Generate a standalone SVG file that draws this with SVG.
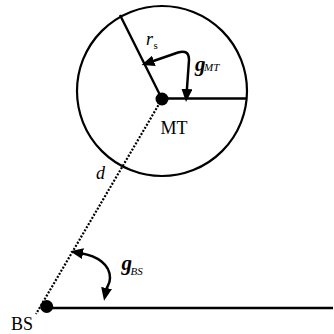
<svg xmlns="http://www.w3.org/2000/svg" width="334" height="334" viewBox="0 0 334 334">
<style>
.ln{fill:none;stroke:#000;stroke-width:2.4}
.arc{fill:none;stroke:#000;stroke-width:2.5;marker-start:url(#ah);marker-end:url(#ah)}
.dot{fill:#000}
.lbl{font-family:"Liberation Serif","Times New Roman",serif;font-size:18px;fill:#000}
.it{font-style:italic}
.gam{font-family:"Liberation Serif","Times New Roman",serif;font-size:21px;font-weight:bold;font-style:italic;fill:#000}
.sub{font-family:"Liberation Serif","Times New Roman",serif;font-size:11px;font-style:italic;font-weight:normal;fill:#000}
.up{font-style:normal}
</style>
<defs>
<marker id="ah" viewBox="0 0 13 11" refX="2" refY="5.5" markerWidth="13" markerHeight="11" markerUnits="userSpaceOnUse" orient="auto-start-reverse">
<path d="M0,0 L13,5.5 L0,11 z" fill="#000"/>
</marker>
</defs>
<rect width="334" height="334" fill="#fff"/>
<g id="coverage">
<circle cx="162" cy="91" r="85" fill="none" stroke="#000" stroke-width="2.2"/>
</g>
<g id="connectors">
<line x1="162" y1="99" x2="36" y2="314" stroke="#000" stroke-width="2.2" stroke-dasharray="2 1.6"/>
<line class="ln" x1="120" y1="15" x2="162" y2="99"/>
<line class="ln" x1="162" y1="98.5" x2="247" y2="98.5"/>
<line class="ln" x1="47" y1="308" x2="333" y2="308"/>
<path class="arc" d="M152,61.5 L178,52.5 Q189,49 189,60 L186.8,91"/>
<path class="arc" d="M81,253.2 C97,256 110,264 110,278 C110,284 107,286 106.2,290"/>
</g>
<g id="MT">
<circle class="dot" cx="162" cy="99" r="6.5"/>
<text class="lbl" x="160.5" y="133.5">MT</text>
</g>
<g id="BS">
<circle class="dot" cx="46.7" cy="306.5" r="6.5"/>
<text class="lbl" x="11" y="330">BS</text>
</g>
<g id="labels">
<text class="lbl it" x="146" y="45">r<tspan class="sub up" dx="0.5" dy="4">s</tspan></text>
<text class="gam" x="195" y="70.5">g<tspan class="sub" dx="-1.5" dy="0.5">MT</tspan></text>
<text class="lbl it" x="96" y="178.5" font-size="17">d</text>
<text class="gam" x="121.5" y="269.5">g<tspan class="sub" dx="-1.5" dy="5">BS</tspan></text>
</g>
</svg>
